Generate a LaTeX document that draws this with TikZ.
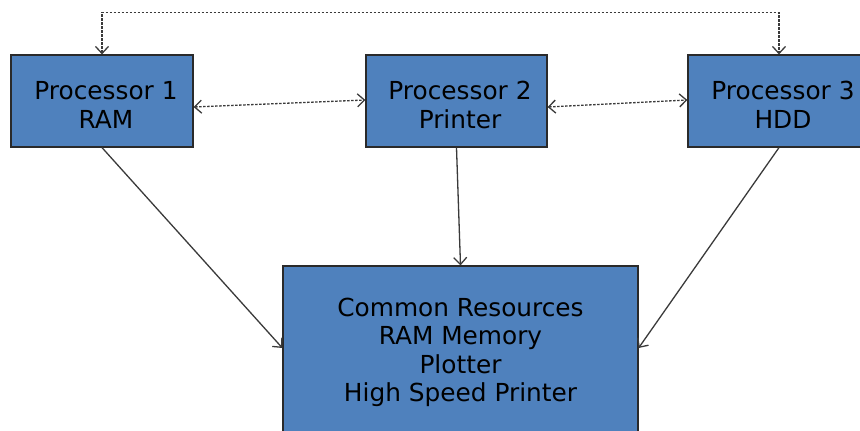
\documentclass[tikz,border=0pt]{standalone}
\usepackage{fontspec}
\setmainfont{DejaVu Sans}
\usetikzlibrary{arrows.meta}
\definecolor{boxblue}{HTML}{4F81BD}
\definecolor{boxedge}{HTML}{2A2A2A}
\definecolor{arrgray}{HTML}{3A3A3A}
\begin{document}
\begin{tikzpicture}[x=1pt,y=-1pt,
  procbox/.style={draw=boxedge, line width=1.2pt, fill=boxblue, minimum width=182pt, minimum height=92pt, inner sep=0pt},
  boxtext/.style={align=center, inner sep=0pt, font=\fontsize{24.8}{28.5}\selectfont, text=black},
  dasharrow/.style={draw=arrgray, line width=1.3pt, dash pattern=on 2.5pt off 1.5pt, {Straight Barb[length=7pt,width=13pt]}-{Straight Barb[length=7pt,width=13pt]}},
  solidarrow/.style={draw=arrgray, line width=1.3pt, -{Straight Barb[length=7pt,width=13pt]}}]
\clip (0,0) rectangle (860,431);
\node[procbox] (b1) at (102,101) {};
\node[procbox, minimum width=181pt] (b2) at (456.5,101) {};
\node[procbox] (b3) at (779,101) {};
\node[procbox, minimum width=355pt, minimum height=173pt] (c) at (460.5,352.5) {};
\node[boxtext] (t1) at (106,105) {Processor 1\\RAM};
\node[boxtext] (t2) at (460,105) {Processor 2\\Printer};
\node[boxtext] (t3) at (783,105) {Processor 3\\HDD};
\node[boxtext] (tc) at (460.5,352.6) {Common Resources\\RAM Memory\\Plotter\\High Speed Printer};
\draw[dasharrow] (b1.north) -- ++(0,-42) -| (b3.north);
\draw[dasharrow] ([yshift=-6pt]b1.east) -- ([yshift=1pt]b2.west);
\draw[dasharrow] ([yshift=-6pt]b2.east) -- ([yshift=1pt]b3.west);
\draw[solidarrow] (b1.south) -- ([yshift=4.5pt]c.west);
\draw[solidarrow] (b2.south) -- (c.north);
\draw[solidarrow] (b3.south) -- ([yshift=4.5pt]c.east);
\end{tikzpicture}
\end{document}
